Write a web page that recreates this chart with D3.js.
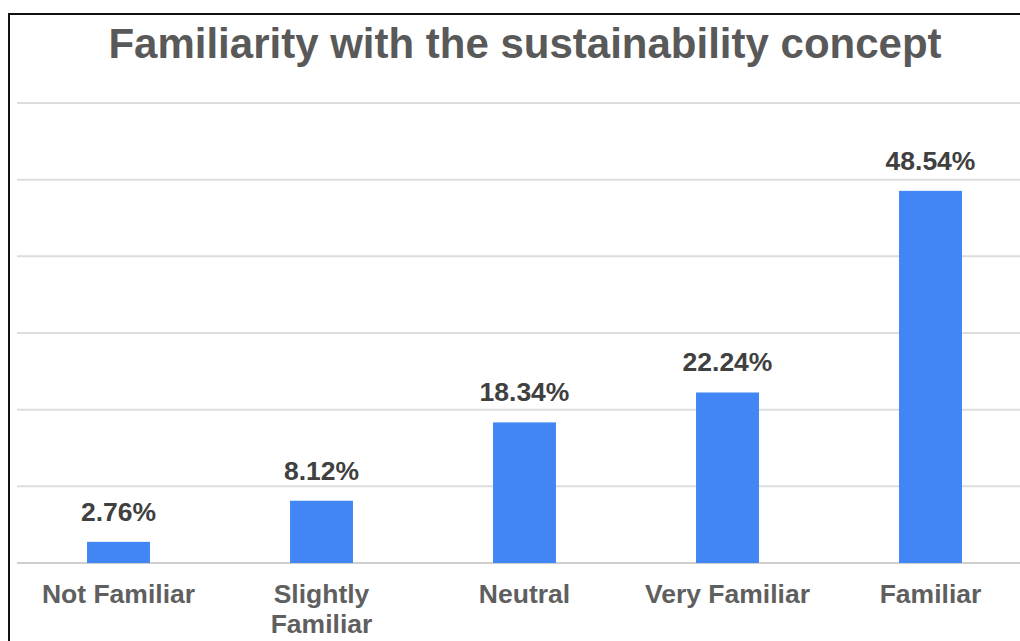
<!DOCTYPE html>
<html>
<head>
<meta charset="utf-8">
<script src="https://cdn.jsdelivr.net/npm/d3@7"></script>
<style>
  html, body { margin: 0; padding: 0; background: #fff; }
  svg { display: block; }
  text { font-family: "Liberation Sans", Arial, sans-serif; font-weight: bold; }
</style>
</head>
<body>
<svg id="chart" width="1020" height="641"></svg>
<script>
// Survey results: familiarity with the sustainability concept (% of respondents)
const categories = ["Not Familiar", "Slightly Familiar", "Neutral", "Very Familiar", "Familiar"];
const categoryLines = [["Not Familiar"], ["Slightly", "Familiar"], ["Neutral"], ["Very Familiar"], ["Familiar"]];
const values = [2.76, 8.12, 18.34, 22.24, 48.54];
const gridTicks = [0, 10, 20, 30, 40, 50, 60];
const title = "Familiarity with the sustainability concept";

const svg = d3.select("#chart");
const W = 1020, H = 641;

const x = d3.scaleBand()
  .domain(categories)
  .range([17, 1032])
  .paddingInner(0.69)
  .paddingOuter(0.345);

const y = d3.scaleLinear()
  .domain([0, 60])
  .range([563, 103]);

// frame
svg.append("path")
  .attr("d", `M9,${H} L9,14 L${W},14`)
  .attr("fill", "none")
  .attr("stroke", "#111")
  .attr("stroke-width", 2);

// horizontal gridlines
svg.append("g")
  .selectAll("line")
  .data(gridTicks)
  .join("line")
  .attr("x1", 17)
  .attr("x2", W)
  .attr("y1", d => y(d))
  .attr("y2", d => y(d))
  .attr("stroke", d => d === 0 ? "#cfcfcf" : "#dcdcdc")
  .attr("stroke-width", 2);

// title
svg.append("text")
  .attr("x", 525)
  .attr("y", 58)
  .attr("text-anchor", "middle")
  .attr("font-size", 42)
  .attr("fill", "#595959")
  .text(title);

// bars
svg.append("g")
  .selectAll("rect")
  .data(values)
  .join("rect")
  .attr("x", (d, i) => x(categories[i]))
  .attr("width", x.bandwidth())
  .attr("y", d => y(d))
  .attr("height", d => y(0) - y(d))
  .attr("fill", "#4285f4");

// value labels
svg.append("g")
  .selectAll("text")
  .data(values)
  .join("text")
  .attr("x", (d, i) => x(categories[i]) + x.bandwidth() / 2)
  .attr("y", d => y(d) - 21)
  .attr("text-anchor", "middle")
  .attr("font-size", 26.5)
  .attr("fill", "#404040")
  .text(d => d.toFixed(2) + "%");

// category labels
const cat = svg.append("g")
  .selectAll("text")
  .data(categories)
  .join("text")
  .attr("x", d => x(d) + x.bandwidth() / 2)
  .attr("y", 603)
  .attr("text-anchor", "middle")
  .attr("font-size", 26.5)
  .attr("fill", "#5f5f5f");

cat.selectAll("tspan")
  .data((d, i) => categoryLines[i])
  .join("tspan")
  .attr("x", function () { return d3.select(this.parentNode).attr("x"); })
  .attr("dy", (d, j) => j === 0 ? 0 : 30)
  .text(d => d);
</script>
</body>
</html>
